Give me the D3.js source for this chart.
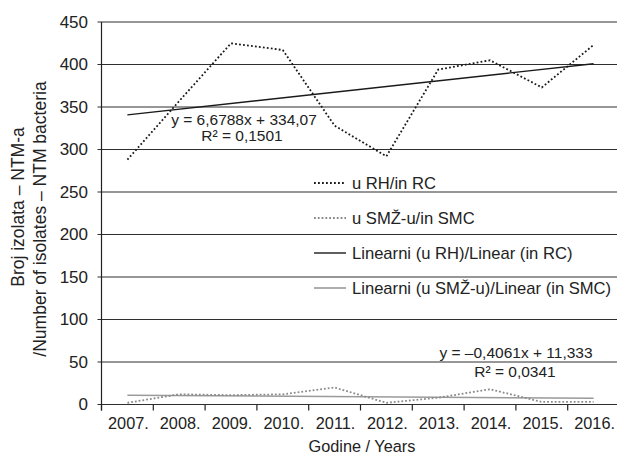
<!DOCTYPE html>
<html>
<head>
<meta charset="utf-8">
<script src="https://cdn.jsdelivr.net/npm/d3@7"></script>
<style>
  html, body { margin: 0; padding: 0; background: #fff; overflow: hidden; }
  svg { display: block; font-family: "Liberation Sans", Arial, sans-serif; }
</style>
</head>
<body>
<svg id="chart" width="617" height="455"></svg>
<script>
const years = ['2007.', '2008.', '2009.', '2010.', '2011.', '2012.', '2013.', '2014.', '2015.', '2016.'];
const rhValues = [288, 357, 425, 417, 328, 292, 394, 405, 373, 423];
const smcValues = [2, 12, 11, 12, 20, 2, 8, 18, 3, 3];
const yTicks = [0, 50, 100, 150, 200, 250, 300, 350, 400, 450];
// trendline coefficients as printed on the chart (x = 1..10)
const rhTrend = [6.6788, 334.07];
const smcTrend = [-0.4061, 11.333];
const legendLabels = ['u RH/in RC', 'u SMŽ-u/in SMC', 'Linearni (u RH)/Linear (in RC)', 'Linearni (u SMŽ-u)/Linear (in SMC)'];

(() => {
    const svg = d3.select('#chart');
    const plot = { left: 101.5, right: 619.5, top: 22, bottom: 404.5 };

    const x = d3.scaleBand().domain(years).range([plot.left, plot.right]);
    const y = d3.scaleLinear().domain([0, 450]).range([plot.bottom, plot.top]);
    const cx = d => x(d) + x.bandwidth() / 2;

    // gridlines
    svg.append('g').selectAll('line').data(yTicks).join('line')
        .attr('x1', plot.left - 4).attr('x2', plot.right)
        .attr('y1', d => y(d)).attr('y2', d => y(d))
        .attr('stroke', '#2e2e2e').attr('stroke-width', 1);

    // y axis line + labels
    svg.append('line').attr('x1', plot.left).attr('x2', plot.left).attr('y1', plot.top).attr('y2', plot.bottom + 6)
        .attr('stroke', '#222').attr('stroke-width', 1.2);
    svg.append('g').selectAll('text').data(yTicks).join('text')
        .attr('x', 88).attr('y', d => y(d)).attr('dy', '0.35em')
        .attr('text-anchor', 'end').attr('font-size', 17).attr('fill', '#222')
        .text(d => d);

    // x axis ticks at category boundaries
    const bounds = years.map(d => x(d)).concat([plot.right]);
    svg.append('g').selectAll('line').data(bounds).join('line')
        .attr('x1', d => d).attr('x2', d => d).attr('y1', plot.bottom).attr('y2', plot.bottom + 6)
        .attr('stroke', '#222').attr('stroke-width', 1.2);
    svg.append('g').selectAll('text').data(years).join('text')
        .attr('x', d => cx(d) + 1).attr('y', 429)
        .attr('text-anchor', 'middle').attr('font-size', 16.3).attr('fill', '#222')
        .text(d => d);

    // axis titles
    svg.append('text').attr('x', 362).attr('y', 452).attr('text-anchor', 'middle')
        .attr('font-size', 16.3).attr('fill', '#222').text('Godine / Years');
    svg.append('text').attr('transform', 'translate(24,207) rotate(-90)').attr('text-anchor', 'middle')
        .attr('font-size', 17.5).attr('fill', '#222').text('Broj izolata – NTM-a');
    svg.append('text').attr('transform', 'translate(46,219) rotate(-90)').attr('text-anchor', 'middle')
        .attr('font-size', 17.5).attr('fill', '#222').text('/Number of isolates – NTM bacteria');

    const line = d3.line().x((d, i) => cx(years[i])).y(d => y(d));

    // trendlines
    const trendPts = c => [1, years.length].map(i => ({ i: i - 1, v: c[0] * i + c[1] }));
    const trendLine = d3.line().x(d => cx(years[d.i])).y(d => y(d.v));
    svg.append('path').attr('d', trendLine(trendPts(smcTrend)))
        .attr('fill', 'none').attr('stroke', '#9a9a9a').attr('stroke-width', 1.6);
    svg.append('path').attr('d', trendLine(trendPts(rhTrend)))
        .attr('fill', 'none').attr('stroke', '#1a1a1a').attr('stroke-width', 1.4);

    // series
    svg.append('path').attr('d', line(smcValues))
        .attr('fill', 'none').attr('stroke', '#8a8a8a').attr('stroke-width', 1.8)
        .attr('stroke-dasharray', '1.8,2');
    svg.append('path').attr('d', line(rhValues))
        .attr('fill', 'none').attr('stroke', '#1a1a1a').attr('stroke-width', 1.8)
        .attr('stroke-dasharray', '1.8,2.2');

    // trendline equations
    const eq = [
        { t: 'y = 6,6788x + 334,07', x: 244, y: 120 },
        { t: 'R² = 0,1501', x: 242, y: 136 },
        { t: 'y = –0,4061x + 11,333', x: 516, y: 353 },
        { t: 'R² = 0,0341', x: 515, y: 372 }
    ];
    svg.append('g').selectAll('text').data(eq).join('text')
        .attr('x', d => d.x).attr('y', d => d.y).attr('dy', '0.35em')
        .attr('text-anchor', 'middle').attr('font-size', 15.5).attr('fill', '#222')
        .text(d => d.t);

    // legend
    const legendStyles = [
        { stroke: '#1a1a1a', dash: '1.8,2.2', w: 1.8 },
        { stroke: '#8a8a8a', dash: '1.8,2', w: 1.8 },
        { stroke: '#1a1a1a', dash: null, w: 1.4 },
        { stroke: '#9a9a9a', dash: null, w: 1.6 }
    ];
    const legend = svg.append('g').selectAll('g').data(legendLabels).join('g')
        .attr('transform', (d, i) => `translate(314,${183 + i * 35})`);
    legend.append('line').attr('x1', 0).attr('x2', 32).attr('y1', 0).attr('y2', 0)
        .attr('stroke', (d, i) => legendStyles[i].stroke)
        .attr('stroke-width', (d, i) => legendStyles[i].w)
        .attr('stroke-dasharray', (d, i) => legendStyles[i].dash);
    legend.append('text').attr('x', 38).attr('dy', '0.35em')
        .attr('font-size', 16.6).attr('fill', '#222').text(d => d);
})();
</script>
</body>
</html>
